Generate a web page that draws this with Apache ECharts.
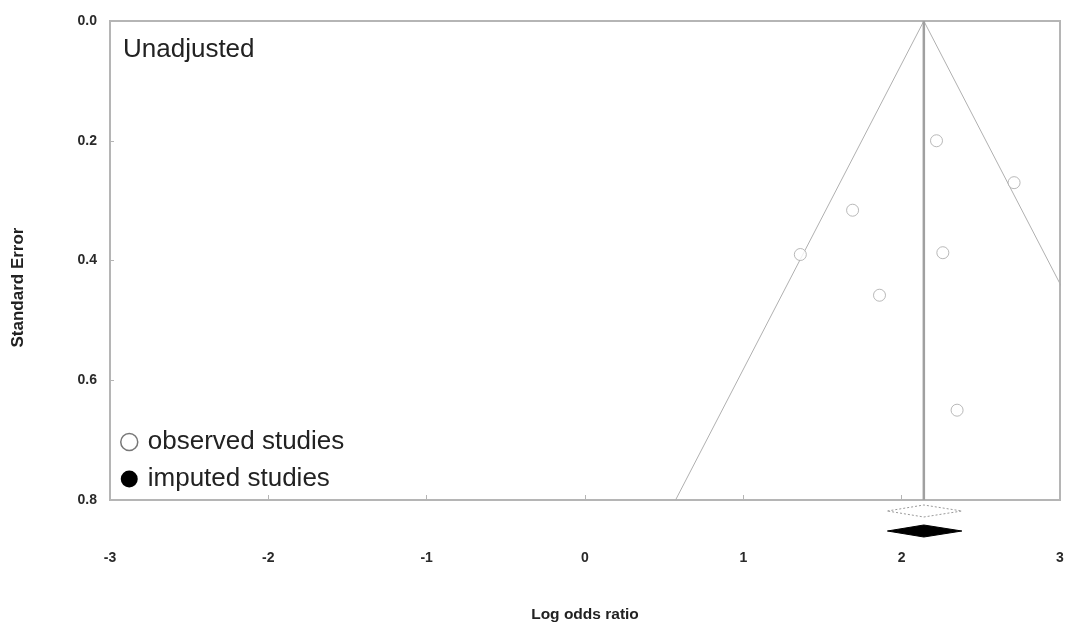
<!DOCTYPE html>
<html>
<head>
<meta charset="utf-8">
<script src="https://cdn.jsdelivr.net/npm/echarts@6/dist/echarts.min.js"></script>
<style>
  html, body { margin: 0; padding: 0; background: #fff; }
  #chart { width: 1075px; height: 628px; }
</style>
</head>
<body>
<div id="chart"></div>
<script>
// observed studies: [log odds ratio, standard error]
const observedStudies = [
  [2.22, 0.200],
  [2.71, 0.270],
  [1.69, 0.316],
  [1.36, 0.390],
  [2.26, 0.387],
  [1.86, 0.458],
  [2.35, 0.650],
];
const imputedStudies = [];

// combined effect: [lower, point, upper]
const observedEffect = [1.91, 2.14, 2.38];
const imputedEffect = [1.91, 2.14, 2.38];

const xTicks = [-3, -2, -1, 0, 1, 2, 3];
const yTicks = [0.0, 0.2, 0.4, 0.6, 0.8];
const seMax = 0.8;
const z95 = 1.96;

const font = '"Liberation Sans", Arial, sans-serif';
const center = observedEffect[1];
const funnelData = [
  [center - z95 * seMax, seMax],
  [center, 0],
  [center + z95 * seMax, seMax],
];

// draws a summary diamond below the plot, offset in pixels from the axis
function diamondItem(effect, offset, filled) {
  return function (params, api) {
    const lo = api.coord([effect[0], seMax]);
    const mid = api.coord([effect[1], seMax]);
    const hi = api.coord([effect[2], seMax]);
    const y = lo[1] + offset;
    const h = 6;
    return {
      type: 'polygon',
      shape: { points: [[lo[0], y], [mid[0], y - h], [hi[0], y], [mid[0], y + h]] },
      style: filled
        ? { fill: '#000', stroke: '#000', lineWidth: 1 }
        : { fill: 'none', stroke: '#9a9a9a', lineWidth: 1, lineDash: [2, 2] },
    };
  };
}

const chart = echarts.init(document.getElementById('chart'));
chart.setOption({
  animation: false,
  backgroundColor: '#fff',
  textStyle: { fontFamily: font },
  title: {
    text: 'Unadjusted',
    left: 118,
    top: 32,
    textStyle: { fontFamily: font, fontSize: 26, fontWeight: 'normal', color: '#222' },
  },
  legend: {
    orient: 'vertical',
    left: 115,
    top: 424,
    itemWidth: 17,
    itemHeight: 17,
    itemGap: 11,
    selectedMode: false,
    textStyle: { fontFamily: font, fontSize: 26, color: '#222', padding: [0, 0, 0, 5] },
    data: [
      { name: 'observed studies', icon: 'circle', itemStyle: { color: '#fff', borderColor: '#555', borderWidth: 1.5 } },
      { name: 'imputed studies', icon: 'circle', itemStyle: { color: '#000', borderColor: '#000', borderWidth: 0, opacity: 1 } },
    ],
  },
  grid: {
    left: 110,
    right: 15,
    top: 21,
    bottom: 126,
    show: true,
    borderColor: '#b5b5b5',
    borderWidth: 2,
  },
  xAxis: {
    type: 'value',
    min: -3,
    max: 3,
    interval: 1,
    name: 'Log odds ratio',
    nameLocation: 'middle',
    nameGap: 107,
    nameTextStyle: { fontFamily: font, fontSize: 15.5, fontWeight: 'bold', color: '#222' },
    axisLine: { show: true, onZero: false, lineStyle: { color: '#b5b5b5', width: 2 } },
    axisTick: { show: true, inside: true, length: 5, lineStyle: { color: '#b5b5b5' } },
    axisLabel: {
      margin: 51,
      fontFamily: font,
      fontSize: 14,
      fontWeight: 'bold',
      color: '#2a2a2a',
      formatter: v => (xTicks.includes(v) ? String(v) : ''),
    },
    splitLine: { show: false },
  },
  yAxis: {
    type: 'value',
    inverse: true,
    min: 0,
    max: seMax,
    interval: 0.2,
    name: 'Standard Error',
    nameLocation: 'middle',
    nameGap: 83,
    nameTextStyle: {
      fontFamily: font, fontSize: 17, fontWeight: 'bold', color: '#222',
      padding: [0, 54, 0, 0],
    },
    axisLine: { show: true, onZero: false, lineStyle: { color: '#b5b5b5', width: 2 } },
    axisTick: { show: true, inside: true, length: 4, lineStyle: { color: '#b5b5b5' } },
    axisLabel: {
      margin: 13,
      fontFamily: font,
      fontSize: 14,
      fontWeight: 'bold',
      color: '#2a2a2a',
      formatter: v => yTicks.find(t => Math.abs(t - v) < 1e-9).toFixed(1),
    },
    splitLine: { show: false },
  },
  series: [
    {
      type: 'line',
      name: 'funnel',
      data: funnelData,
      symbol: 'none',
      silent: true,
      lineStyle: { color: '#b0b0b0', width: 1 },
      z: 2,
    },
    {
      type: 'line',
      name: 'center',
      data: [[center, 0], [center, seMax]],
      symbol: 'none',
      silent: true,
      lineStyle: { color: '#a0a0a0', width: 2.5 },
      z: 2,
    },
    {
      type: 'scatter',
      name: 'observed studies',
      data: observedStudies,
      symbol: 'circle',
      symbolSize: 12,
      itemStyle: { color: '#fff', borderColor: '#a8a8a8', borderWidth: 1 },
      z: 3,
    },
    {
      type: 'scatter',
      name: 'imputed studies',
      data: imputedStudies,
      symbol: 'circle',
      symbolSize: 12,
      itemStyle: { color: '#000' },
      z: 3,
    },
    {
      type: 'custom',
      name: 'observed effect',
      data: [0],
      clip: false,
      silent: true,
      renderItem: diamondItem(observedEffect, 11, false),
      z: 4,
    },
    {
      type: 'custom',
      name: 'imputed effect',
      data: [0],
      clip: false,
      silent: true,
      renderItem: diamondItem(imputedEffect, 31, true),
      z: 4,
    },
  ],
});
</script>
</body>
</html>
